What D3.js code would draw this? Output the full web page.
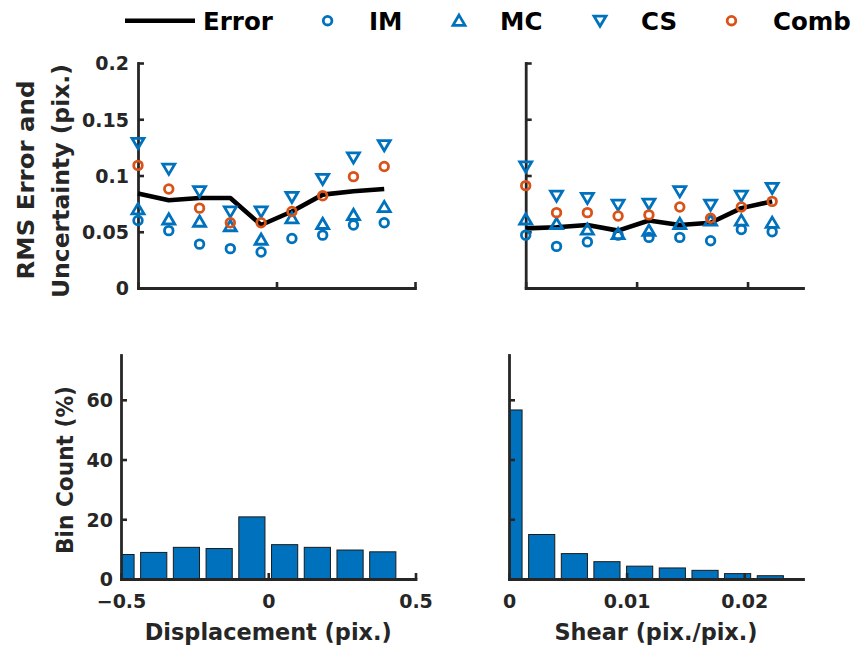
<!DOCTYPE html>
<html>
<head>
<meta charset="utf-8">
<script src="https://cdn.jsdelivr.net/npm/d3@7"></script>
<style>
  html, body { margin: 0; padding: 0; background: #fff; }
  svg { display: block; font-family: "DejaVu Sans", sans-serif; font-weight: 700; }
</style>
</head>
<body>
<svg id="chart" width="859" height="648"></svg>
<script>
// Bin positions (left-aligned bin starts)
const dispBins  = [-0.5, -0.3889, -0.2778, -0.1667, -0.0556, 0.0556, 0.1667, 0.2778, 0.3889];
const shearBins = [0, 0.00278, 0.00556, 0.00833, 0.01111, 0.01389, 0.01667, 0.01944, 0.02222];

// RMS error and uncertainty estimates vs displacement (pix.)
const dispError = [0.084, 0.078, 0.080, 0.080, 0.056, 0.068, 0.083, 0.086, 0.088];
const dispIM    = [0.060, 0.051, 0.039, 0.035, 0.032, 0.044, 0.047, 0.056, 0.058];
const dispMC    = [0.070, 0.061, 0.059, 0.055, 0.043, 0.062, 0.057, 0.065, 0.072];
const dispCS    = [0.129, 0.106, 0.086, 0.068, 0.068, 0.081, 0.097, 0.116, 0.127];
const dispComb  = [0.109, 0.088, 0.071, 0.058, 0.058, 0.068, 0.082, 0.099, 0.108];
const dispCount = [8.2, 8.9, 10.6, 10.2, 20.8, 11.5, 10.6, 9.7, 9.1];

// RMS error and uncertainty estimates vs shear (pix./pix.)
const shearError = [0.053, 0.054, 0.056, 0.051, 0.060, 0.056, 0.058, 0.071, 0.077];
const shearIM    = [0.047, 0.037, 0.041, 0.047, 0.045, 0.045, 0.042, 0.052, 0.050];
const shearMC    = [0.061, 0.057, 0.052, 0.048, 0.051, 0.057, 0.060, 0.060, 0.058];
const shearCS    = [0.108, 0.082, 0.080, 0.074, 0.075, 0.086, 0.074, 0.082, 0.089];
const shearComb  = [0.091, 0.067, 0.067, 0.064, 0.065, 0.072, 0.062, 0.072, 0.077];
const shearCount = [56.6, 14.9, 8.5, 5.8, 4.3, 3.7, 2.9, 1.8, 1.1];

// Tick values and labels
const rmsTicks    = [0, 0.05, 0.1, 0.15, 0.2];
const rmsLabels   = ["0", "0.05", "0.1", "0.15", "0.2"];
const countTicks  = [0, 20, 40, 60];
const countLabels = ["0", "20", "40", "60"];
const dispTicks   = [-0.5, 0, 0.5];
const dispLabels  = ["\u22120.5", "0", "0.5"];
const shearTicks  = [0, 0.01, 0.02];
const shearLabels = ["0", "0.01", "0.02"];

const legendNames = ["Error", "IM", "MC", "CS", "Comb"];

const BLUE = "#0072BD", ORANGE = "#D95319", INK = "#262626";
const FONT = '"DejaVu Sans", sans-serif';
const svg = d3.select("#chart");

// Marker shapes
const sym = {
  circle: d3.symbol().type(d3.symbolCircle).size(Math.PI * 4.3 * 4.3),
  up: () => "M0,-5.6L6,4.6L-6,4.6Z",
  down: () => "M0,5.6L6,-4.6L-6,-4.6Z"
};
const MARK_W = 2.8;

function drawAxes(g, x, y, xt, xl, yt, yl, yGap) {
  const ax = g.append("g").attr("class", "axes");
  const xa = d3.axisBottom(x).tickValues(xt).tickSizeInner(-6).tickSizeOuter(0)
    .tickPadding(10).tickFormat((d, i) => xl ? xl[i] : "");
  const ya = d3.axisLeft(y).tickValues(yt).tickSizeInner(-6).tickSizeOuter(0)
    .tickPadding(yGap).tickFormat((d, i) => yl ? yl[i] : "");
  const gx = ax.append("g").attr("transform", `translate(0,${y.range()[0]})`).call(xa);
  const gy = ax.append("g").attr("transform", `translate(${x.range()[0]},0)`).call(ya);
  [gx, gy].forEach(a => {
    a.select(".domain").attr("stroke", INK).attr("stroke-width", 2.8).attr("stroke-linecap", "square");
    a.selectAll(".tick line").attr("stroke", INK).attr("stroke-width", 2.6);
    a.selectAll(".tick text").attr("fill", INK).style("font-size", "19px")
      .style("font-family", FONT).style("font-weight", 700);
  });
  gx.selectAll(".tick text").attr("dy", "1em");
  gy.selectAll(".tick text").attr("dy", "0.36em");
  return ax;
}

function rmsPanel(xr, xDomain, xt, bins, err, im, mc, cs, comb, yl) {
  const x = d3.scaleLinear().domain(xDomain).range(xr);
  const y = d3.scaleLinear().domain([0, 0.2]).range([288, 63]);
  const g = svg.append("g");
  drawAxes(g, x, y, xt, null, rmsTicks, yl, 9);
  const line = d3.line().x((d, i) => x(bins[i])).y(d => y(d));
  g.append("path").datum(err).attr("d", line).attr("fill", "none")
    .attr("stroke", "#000").attr("stroke-width", 4.6).attr("stroke-linejoin", "round");
  const series = [
    { v: im, s: sym.circle, c: BLUE },
    { v: mc, s: sym.up, c: BLUE },
    { v: cs, s: sym.down, c: BLUE },
    { v: comb, s: sym.circle, c: ORANGE }
  ];
  series.forEach(se => {
    g.append("g").selectAll("path").data(se.v).join("path")
      .attr("d", se.s)
      .attr("transform", (d, i) => `translate(${x(bins[i])},${y(d)})`)
      .attr("fill", "none").attr("stroke", se.c).attr("stroke-width", MARK_W);
  });
}

function countPanel(xr, xDomain, xt, xl, bins, counts, binW, yl, id) {
  const x = d3.scaleLinear().domain(xDomain).range(xr);
  const y = d3.scaleLinear().domain([0, 75]).range([579, 355]);
  const g = svg.append("g");
  g.append("clipPath").attr("id", id).append("rect")
    .attr("x", xr[0]).attr("y", 355).attr("width", xr[1] - xr[0]).attr("height", 224);
  g.append("g").attr("clip-path", `url(#${id})`).selectAll("rect").data(counts).join("rect")
    .attr("x", (d, i) => x(bins[i] - binW / 2))
    .attr("width", (d, i) => x(bins[i] + binW / 2) - x(bins[i] - binW / 2))
    .attr("y", d => y(d)).attr("height", d => y(0) - y(d))
    .attr("fill", BLUE).attr("stroke", "#1a1a1a").attr("stroke-width", 1);
  drawAxes(g, x, y, xt, xl, countTicks, yl, 8);
  return x;
}

// Upper row: RMS error and uncertainty
rmsPanel([138, 415], [-0.5, 0.5], dispTicks, dispBins, dispError, dispIM, dispMC, dispCS, dispComb, rmsLabels);
rmsPanel([525.7, 803], [0, 0.025], shearTicks, shearBins, shearError, shearIM, shearMC, shearCS, shearComb, null);

// Lower row: bin counts
const xDisp = countPanel([121, 415.5], [-0.5, 0.5], dispTicks, dispLabels, dispBins, dispCount, 0.8 / 9, countLabels, "clipDisp");
const xShear = countPanel([509, 803], [0, 0.025], shearTicks, shearLabels, shearBins, shearCount, 0.8 * 0.025 / 9, null, "clipShear");

// Axis titles
function title(t, transform, len) {
  return svg.append("text").attr("transform", transform).text(t)
    .attr("fill", INK).style("font-size", "22.5px").attr("text-anchor", "middle")
    .attr("textLength", len).attr("lengthAdjust", "spacingAndGlyphs");
}
title("Displacement (pix.)", `translate(${d3.mean(xDisp.range())},640)`, 247);
title("Shear (pix./pix.)", `translate(${d3.mean(xShear.range())},640)`, 203);
title("RMS Error and", "translate(34,180) rotate(-90)", 199);
title("Uncertainty (pix.)", "translate(69,181) rotate(-90)", 234);
title("Bin Count (%)", "translate(73,470) rotate(-90)", 168);

// Legend
const lg = svg.append("g").attr("class", "legend");
lg.append("line").attr("x1", 125).attr("x2", 195).attr("y1", 20.7).attr("y2", 20.7)
  .attr("stroke", "#000").attr("stroke-width", 4.6);
const legendMarks = [
  { s: sym.circle, c: BLUE, mx: 327.6 },
  { s: sym.up, c: BLUE, mx: 459 },
  { s: sym.down, c: BLUE, mx: 600 },
  { s: sym.circle, c: ORANGE, mx: 731.5 }
];
legendMarks.forEach(m => {
  lg.append("path").attr("d", m.s).attr("transform", `translate(${m.mx},20.7)`)
    .attr("fill", "none").attr("stroke", m.c).attr("stroke-width", MARK_W);
});
const legendTextX = [203, 369, 500, 641, 773];
legendNames.forEach((n, i) => {
  lg.append("text").attr("x", legendTextX[i]).attr("y", 29.5).text(n)
    .attr("fill", "#000").style("font-size", "24.5px");
});
</script>
</body>
</html>
